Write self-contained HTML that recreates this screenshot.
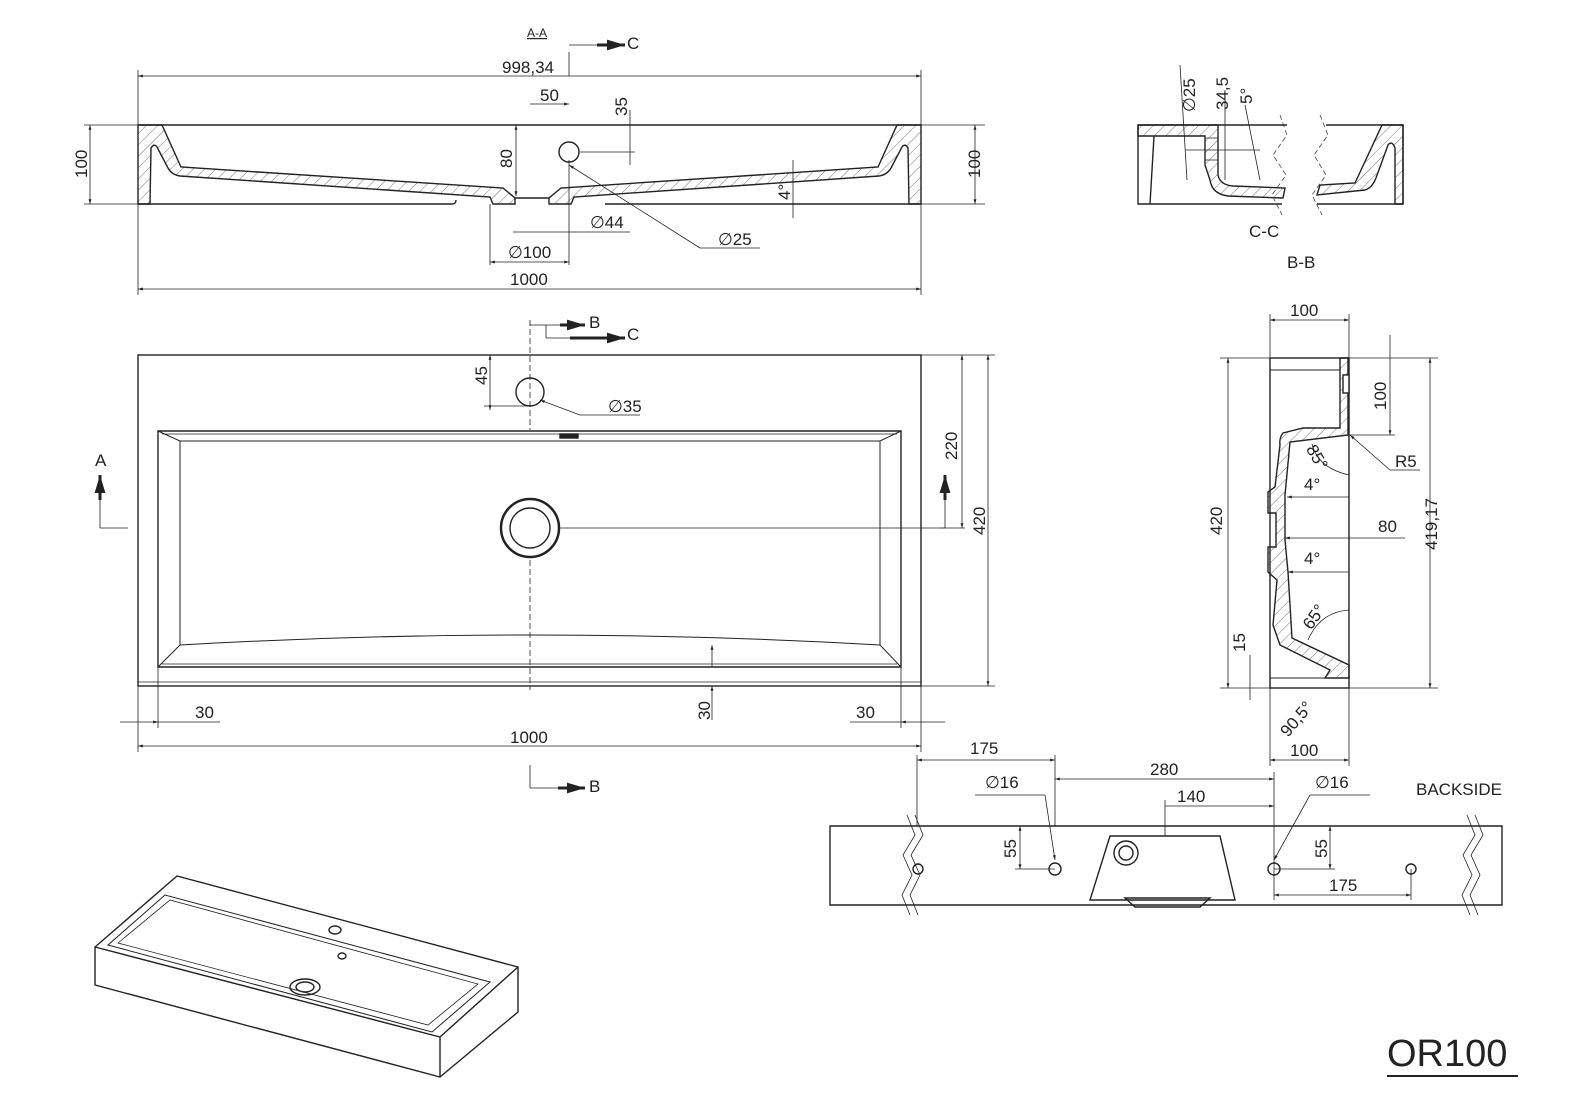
<!DOCTYPE html>
<html><head><meta charset="utf-8"><style>
html,body{margin:0;padding:0;background:#fff;}
svg{display:block;}
text{font-family:"Liberation Sans",sans-serif;fill:#222;}
</style></head><body>
<svg width="1575" height="1113" viewBox="0 0 1575 1113" xmlns="http://www.w3.org/2000/svg">
<defs>
<pattern id="h" width="8" height="8" patternUnits="userSpaceOnUse" patternTransform="rotate(45)"><line x1="0" y1="0" x2="0" y2="8" stroke="#555" stroke-width="0.8"/></pattern>
<marker id="a" viewBox="0 0 10 10" refX="10" refY="5" markerWidth="8" markerHeight="6" orient="auto-start-reverse"><path d="M0,2 L10,5 L0,8z" fill="#222"/></marker>
</defs>
<g stroke="#222" fill="none" stroke-width="1.4">
<!-- A-A section -->
<path d="M138,125 L162,125 L181,167 L503,188 L515,198 L515,204 L493,204 L490,197 L180,176 Q172,175 168,168 L157,147 Q154,143 151,148 L150,204 L138,204 Z" fill="url(#h)"/>
<path d="M921,125 L897,125 L878,167 L561,188 L549,198 L549,204 L571,204 L574,197 L879,176 Q887,175 891,168 L902,147 Q905,143 908,148 L909,204 L921,204 Z" fill="url(#h)"/>
<path d="M138,125 H921 M138,204 H452 Q456,204 456,200 M605,204 H921 M515,198 H549"/>
<circle cx="569" cy="152" r="10" fill="#fff"/>
</g>
<g stroke="#222" stroke-width="0.8" fill="none">
<line x1="138" y1="76" x2="921" y2="76" marker-start="url(#a)" marker-end="url(#a)"/>
<line x1="138" y1="289" x2="921" y2="289" marker-start="url(#a)" marker-end="url(#a)"/>
<line x1="138" y1="70" x2="138" y2="295"/><line x1="921" y1="70" x2="921" y2="295"/>
<line x1="90" y1="125" x2="90" y2="204" marker-start="url(#a)" marker-end="url(#a)"/>
<line x1="84" y1="125" x2="138" y2="125"/><line x1="84" y1="204" x2="138" y2="204"/>
<line x1="975" y1="125" x2="975" y2="204" marker-start="url(#a)" marker-end="url(#a)"/>
<line x1="921" y1="125" x2="985" y2="125"/><line x1="921" y1="204" x2="985" y2="204"/>
<line x1="490" y1="204" x2="490" y2="265"/><line x1="569" y1="160" x2="569" y2="265"/>
<line x1="490" y1="262" x2="569" y2="262" marker-start="url(#a)" marker-end="url(#a)"/>
<line x1="530" y1="104" x2="569" y2="104" marker-end="url(#a)"/>
<line x1="516" y1="125" x2="516" y2="196" marker-start="url(#a)" marker-end="url(#a)"/>
<line x1="630" y1="110" x2="630" y2="165"/>
<line x1="580" y1="152" x2="635" y2="152"/>
<line x1="569" y1="165" x2="700" y2="248" marker-start="url(#a)"/><line x1="700" y1="248" x2="760" y2="248"/>
<line x1="513" y1="232" x2="630" y2="232"/>
<line x1="793" y1="160" x2="793" y2="218"/>
<path d="M569,52 V76 M569,45 H597" /><path d="M597,45 L625,45" marker-end="url(#a)" stroke-width="3"/>
<!-- plan -->
<line x1="530" y1="320" x2="530" y2="430" stroke-dasharray="6,3"/>
<line x1="530" y1="560" x2="530" y2="690" stroke-dasharray="6,3"/>
<line x1="530" y1="325" x2="560" y2="325"/><path d="M560,325 H585" stroke-width="3" marker-end="url(#a)"/>
<line x1="546" y1="325" x2="546" y2="338"/><path d="M570,338 H625" stroke-width="3" marker-end="url(#a)"/><line x1="546" y1="338" x2="570" y2="338"/>
<line x1="530" y1="765" x2="530" y2="788"/><line x1="530" y1="788" x2="558" y2="788"/><path d="M558,788 H585" stroke-width="3" marker-end="url(#a)"/>
<line x1="138" y1="746" x2="921" y2="746" marker-start="url(#a)" marker-end="url(#a)"/>
<line x1="138" y1="686" x2="138" y2="752"/><line x1="921" y1="686" x2="921" y2="752"/>
<line x1="158" y1="667" x2="158" y2="728"/><line x1="901" y1="667" x2="901" y2="728"/>
<line x1="120" y1="722" x2="158" y2="722" marker-end="url(#a)"/><line x1="158" y1="722" x2="220" y2="722"/>
<line x1="945" y1="722" x2="901" y2="722" marker-end="url(#a)"/><line x1="850" y1="722" x2="901" y2="722"/>
<line x1="712" y1="645" x2="712" y2="667" marker-start="url(#a)"/><line x1="712" y1="686" x2="712" y2="720" marker-start="url(#a)"/>
<line x1="921" y1="355" x2="995" y2="355"/><line x1="921" y1="686" x2="995" y2="686"/>
<line x1="988" y1="355" x2="988" y2="686" marker-start="url(#a)" marker-end="url(#a)"/>
<line x1="962" y1="355" x2="962" y2="528" marker-start="url(#a)" marker-end="url(#a)"/>
<line x1="490" y1="355" x2="490" y2="410" marker-start="url(#a)" marker-end="url(#a)"/><line x1="484" y1="406" x2="530" y2="406"/>
<line x1="540" y1="400" x2="580" y2="415" marker-start="url(#a)"/><line x1="580" y1="415" x2="640" y2="415"/>
<line x1="100" y1="500" x2="100" y2="528"/><line x1="100" y1="528" x2="128" y2="528"/><path d="M100,500 V475" stroke-width="3" marker-end="url(#a)"/>
<line x1="945" y1="500" x2="945" y2="528"/><line x1="940" y1="528" x2="945" y2="528"/><path d="M945,500 V475" stroke-width="3" marker-end="url(#a)"/>
<line x1="560" y1="528" x2="965" y2="528"/>
</g>
<g stroke="#222" fill="none" stroke-width="1.4">
<rect x="138" y="355" width="783" height="331"/>
<line x1="138" y1="682" x2="921" y2="682" stroke-width="0.8"/>
<path d="M158,431 H901 V667 H158 Z"/>
<path d="M158,431 L180,441 H880 L901,431 M158,667 L180,645 Q530,625 880,645 L901,667 M180,441 V645 M880,441 V645" stroke-width="1"/>
<path d="M162,434 H897 M162,664 H897" stroke-width="0.7"/>
<circle cx="530" cy="528" r="29" stroke-width="2.5"/><circle cx="530" cy="528" r="20" stroke-width="1.4"/>
<circle cx="530" cy="392" r="14"/>
<rect x="560" y="434" width="18" height="4" fill="#222"/>
<!-- C-C / B-B top right -->
<path d="M1138,125 H1218 L1218,175 Q1220,185 1233,186 L1285,188 L1283,198 L1228,196 Q1212,194 1210,180 L1205,165 V136 H1138 Z" fill="url(#h)"/>
<path d="M1138,125 H1287 M1138,125 V204 H1282 M1154,136 L1150,204"/>
<path d="M1205,138 H1218 V160 H1205" stroke-width="0.8"/>
<path d="M1382,125 L1355,183 L1320,185 L1317,195 L1365,190 Q1372,188 1376,178 L1388,145 Q1392,140 1395,148 L1395,204 H1403 V125 Z" fill="url(#h)"/>
<path d="M1326,125 H1403 V204 H1317"/>
</g>
<g stroke="#444" stroke-width="0.8" fill="none" stroke-dasharray="5,3">
<path d="M1280,115 L1287,135 L1273,155 L1286,175 L1272,195 L1282,215"/>
<path d="M1320,115 L1328,135 L1314,155 L1326,175 L1312,195 L1322,215"/>
</g>
<g stroke="#222" fill="none" stroke-width="1.4">
<!-- side section -->
<path d="M1340,370 V428 L1303,428 L1283,433 Q1279,438 1280,445 L1275,487 L1268,492 V513 H1276 V547 H1268 V572 L1277,580 L1273,625 L1280,645 L1330,670 L1325,678 H1349 V665 L1292,638 L1288,572 L1285,540 V495 L1290,442 L1348,435 V358 H1340 Z" fill="url(#h)"/>
<rect x="1270" y="358" width="79" height="330"/>
<path d="M1270,370 H1340 M1270,678 H1325" stroke-width="1"/>
<rect x="1343" y="375" width="6" height="18" fill="#fff"/>
<!-- backside -->
<path d="M830,826 H1502 V905 H830 Z"/>
<path d="M1110,836 H1220 L1235,900 H1090 Z"/>
<path d="M1125,898 H1210 L1200,907 H1135 Z"/>
<circle cx="1126" cy="853" r="12"/><circle cx="1126" cy="853" r="7"/>
<circle cx="918" cy="869" r="5"/><circle cx="1055" cy="869" r="6"/><circle cx="1274" cy="869" r="6"/><circle cx="1411" cy="869" r="5"/>
<!-- 3D -->
<path d="M95,947 L177,876 L518,967 V1012 L440,1077 L95,985 Z"/>
<path d="M95,947 L440,1037 L518,967 M440,1037 V1077"/>
<path d="M108,945 L165,895 L490,982 L432,1032 Z" stroke-width="1"/>
<path d="M118,943 L170,900 L478,984 L428,1025 Z" stroke-width="0.8"/>
<ellipse cx="305" cy="987" rx="15" ry="8"/><ellipse cx="305" cy="987" rx="9" ry="5"/>
<ellipse cx="335" cy="930" rx="6" ry="4"/><ellipse cx="342" cy="956" rx="4" ry="3"/>
</g>
<g stroke="#222" stroke-width="0.8" fill="none">
<line x1="1270" y1="320" x2="1349" y2="320" marker-start="url(#a)" marker-end="url(#a)"/>
<line x1="1270" y1="314" x2="1270" y2="358"/><line x1="1349" y1="314" x2="1349" y2="358"/>
<line x1="1270" y1="760" x2="1349" y2="760" marker-start="url(#a)" marker-end="url(#a)"/>
<line x1="1270" y1="688" x2="1270" y2="766"/><line x1="1349" y1="688" x2="1349" y2="766"/>
<line x1="1228" y1="358" x2="1228" y2="688" marker-start="url(#a)" marker-end="url(#a)"/>
<line x1="1220" y1="358" x2="1270" y2="358"/><line x1="1220" y1="688" x2="1270" y2="688"/>
<line x1="1430" y1="358" x2="1430" y2="688" marker-start="url(#a)" marker-end="url(#a)"/>
<line x1="1349" y1="358" x2="1438" y2="358"/><line x1="1349" y1="688" x2="1438" y2="688"/>
<line x1="1390" y1="335" x2="1390" y2="435" marker-end="url(#a)"/>
<line x1="1349" y1="435" x2="1395" y2="435"/>
<line x1="1350" y1="435" x2="1390" y2="470" marker-start="url(#a)"/><line x1="1390" y1="470" x2="1420" y2="470"/>
<line x1="1287" y1="497" x2="1349" y2="497" marker-start="url(#a)"/>
<line x1="1288" y1="572" x2="1349" y2="572" marker-start="url(#a)"/>
<line x1="1285" y1="538" x2="1405" y2="538" marker-start="url(#a)"/>
<path d="M1312,444 Q1318,468 1349,475"/><path d="M1308,640 Q1320,612 1349,610"/>
<line x1="1250" y1="655" x2="1250" y2="700"/>
<line x1="917" y1="760" x2="1055" y2="760" marker-start="url(#a)" marker-end="url(#a)"/>
<line x1="1055" y1="779" x2="1274" y2="779" marker-start="url(#a)" marker-end="url(#a)"/>
<line x1="1165" y1="806" x2="1274" y2="806" marker-end="url(#a)"/>
<line x1="1274" y1="895" x2="1411" y2="895" marker-start="url(#a)" marker-end="url(#a)"/>
<line x1="917" y1="755" x2="917" y2="826"/><line x1="1055" y1="755" x2="1055" y2="826"/><line x1="1274" y1="772" x2="1274" y2="900"/><line x1="1165" y1="800" x2="1165" y2="836"/><line x1="1411" y1="869" x2="1411" y2="900"/>
<line x1="1020" y1="826" x2="1020" y2="869" marker-start="url(#a)" marker-end="url(#a)"/><line x1="1015" y1="869" x2="1055" y2="869"/>
<line x1="1330" y1="826" x2="1330" y2="869" marker-start="url(#a)" marker-end="url(#a)"/><line x1="1274" y1="869" x2="1335" y2="869"/>
<line x1="975" y1="795" x2="1045" y2="795"/><line x1="1045" y1="795" x2="1055" y2="860" marker-end="url(#a)"/>
<line x1="1310" y1="795" x2="1370" y2="795"/><line x1="1310" y1="795" x2="1274" y2="860" marker-end="url(#a)"/>
<path d="M907,815 L915,835 L903,855 L912,875 L902,895 L910,915 M915,815 L923,835 L911,855 L920,875 L910,895 L918,915"/>
<path d="M1467,815 L1475,835 L1463,855 L1472,875 L1462,895 L1470,915 M1475,815 L1483,835 L1471,855 L1480,875 L1470,895 L1478,915"/>
<line x1="1180" y1="65" x2="1187" y2="180"/><line x1="1225" y1="90" x2="1225" y2="180"/><line x1="1245" y1="105" x2="1260" y2="180"/>
<line x1="1185" y1="150" x2="1260" y2="150"/>
</g>
<g font-size="17">
<text x="502" y="73">998,34</text>
<text x="510" y="285">1000</text>
<text x="540" y="101">50</text>
<text x="508" y="258">∅100</text>
<text x="590" y="228">∅44</text>
<text x="718" y="245">∅25</text>
<text x="608" y="412">∅35</text>
<text x="510" y="743">1000</text>
<text x="195" y="718">30</text><text x="856" y="718">30</text>
<text x="970" y="754">175</text><text x="1150" y="775">280</text><text x="1177" y="802">140</text>
<text x="985" y="788">∅16</text><text x="1315" y="788">∅16</text><text x="1329" y="891">175</text>
<text x="1290" y="316">100</text><text x="1290" y="756">100</text>
<text x="1395" y="467">R5</text><text x="1378" y="532">80</text>
<text x="1304" y="490">4°</text><text x="1304" y="564">4°</text>
<text x="1416" y="795">BACKSIDE</text>
<text x="1249" y="237">C-C</text><text x="1287" y="268">B-B</text>
<text x="627" y="49">C</text><text x="627" y="340">C</text><text x="589" y="328">B</text><text x="589" y="792">B</text>
<text x="95" y="466">A</text>
<text x="527" y="37" font-size="12" text-decoration="underline">A-A</text>
<g transform="rotate(-90)">
<text x="-178" y="87">100</text><text x="-178" y="980">100</text>
<text x="-168" y="512">80</text><text x="-116" y="627">35</text>
<text x="-385" y="487">45</text><text x="-460" y="957">220</text><text x="-535" y="985">420</text>
<text x="-720" y="710">30</text><text x="-535" y="1222">420</text><text x="-550" y="1437">419,17</text>
<text x="-410" y="1386">100</text><text x="-652" y="1245">15</text>
<text x="-858" y="1016">55</text><text x="-858" y="1327">55</text>
<text x="-200" y="790">4°</text>
<text x="-112" y="1195">∅25</text><text x="-110" y="1228">34,5</text><text x="-104" y="1252">5°</text>
</g>
<text x="1305" y="460" transform="rotate(60 1315 455)">85°</text>
<text x="1298" y="625" transform="rotate(-55 1310 615)">65°</text>
<text x="1275" y="730" transform="rotate(-50 1290 720)">90,5°</text>
</g>
<text x="1387" y="1066" font-size="38">OR100</text>
<line x1="1387" y1="1076" x2="1518" y2="1076" stroke="#222" stroke-width="2"/>
</svg>
</body></html>
